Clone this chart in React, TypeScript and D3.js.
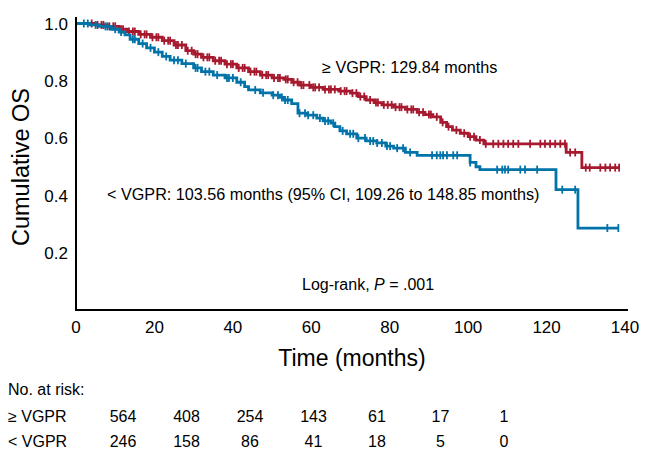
import React from "react";
import * as d3 from "d3";

const xTicks = [0, 20, 40, 60, 80, 100, 120, 140];
const yTicks = [0.2, 0.4, 0.6, 0.8, 1.0];

// Kaplan-Meier steps [time (months), cumulative survival]
const geVgprSteps: [number, number][] = [
  [0, 1], [5, 0.995], [8, 0.99], [11, 0.98], [13, 0.972], [16, 0.962], [19, 0.952],
  [22, 0.94], [25, 0.925], [28, 0.905], [30, 0.893], [32, 0.882], [35, 0.87],
  [38, 0.858], [41, 0.845], [44, 0.832], [47, 0.82], [50, 0.81], [53, 0.805],
  [55, 0.795], [57, 0.785], [60, 0.777], [63, 0.77], [67, 0.764], [70, 0.757],
  [72, 0.745], [74, 0.733], [76, 0.724], [78, 0.716], [81, 0.708], [84, 0.7],
  [87, 0.69], [89, 0.682], [91, 0.674], [93, 0.655], [94.5, 0.64], [96, 0.628],
  [98, 0.617], [100, 0.605], [102, 0.593], [104, 0.58], [125, 0.55], [129, 0.497],
  [138.5, 0.497],
];
const ltVgprSteps: [number, number][] = [
  [0, 1], [3.5, 0.995], [6, 0.99], [9, 0.98], [11, 0.97], [12.5, 0.96], [13.8, 0.945],
  [16, 0.93], [18, 0.915], [20, 0.9], [22, 0.885], [24, 0.872], [27, 0.86],
  [30, 0.845], [32, 0.832], [35, 0.82], [38, 0.81], [41, 0.795], [43, 0.78],
  [44, 0.768], [47, 0.758], [50, 0.75], [52, 0.742], [53, 0.733], [55, 0.72],
  [56.6, 0.687], [59, 0.68], [61.4, 0.67], [63, 0.66], [65, 0.652], [66, 0.64],
  [67.3, 0.625], [69, 0.615], [71.6, 0.6], [74, 0.59], [76.7, 0.583], [79, 0.572],
  [81, 0.565], [84, 0.55], [87, 0.54], [100.5, 0.515], [102, 0.5], [103, 0.49],
  [122.4, 0.42], [128, 0.286], [138.3, 0.286],
];

// censoring times (months)
const geVgprCensor = [
  4, 5.5, 6.5, 7, 8.5, 9.5, 10, 11.5, 12, 13.5, 14.5, 15, 16.5, 17.5, 18, 19.5, 20.5,
  21, 22.5, 23.5, 24, 25.5, 26, 27, 28.5, 29.5, 30.5, 31, 32.5, 33.5, 34, 35.5, 36.5,
  37, 38.5, 39.5, 40, 41.5, 42.5, 43, 44.5, 45.5, 46, 47.5, 48.5, 49, 50.5, 51.5, 52,
  53.5, 54, 55.5, 56.5, 57.5, 58, 59.5, 60.5, 61, 62, 63.5, 64.5, 65, 66, 67.5, 68.5,
  69, 70.5, 71.5, 72.5, 73.5, 75, 76.5, 77, 78.5, 79.5, 80.5, 81.5, 82.5, 83, 84.5,
  85.5, 86, 87.5, 88.5, 90, 90.5, 92, 93.5, 95, 97, 99, 100.5, 101.5, 103, 104.5,
  106.4, 107.7, 109, 110.2, 111.5, 112.8, 115.8, 118.4, 119.6, 120.9, 122.2, 123.5,
  124.7, 126, 127.3, 130, 131, 133.7, 135, 136.2, 137.5, 138.5,
];
const ltVgprCensor = [
  2, 3, 5, 7.5, 8, 10, 11.5, 14.5, 15, 17, 19, 21, 23, 25, 26, 28, 30.5, 31, 33, 34,
  36, 38.5, 39, 40, 42, 45.7, 47.7, 50.3, 51.5, 52.5, 53.3, 54, 57, 58.4, 59.2, 60.5,
  62.2, 63.5, 64.3, 65.6, 68, 69.9, 70.7, 72, 73.7, 75, 75.8, 76.8, 78, 79.3, 80.1,
  81.9, 83.4, 85.2, 90.8, 92, 92.9, 93.6, 94.6, 96.2, 97.2, 100.5, 107.4, 108.7,
  109.4, 110.2, 113.3, 114.5, 117.6, 124, 127.3, 135.5, 138.3,
];

const riskGroups = ["≥ VGPR", "< VGPR"];
const riskGe = [564, 408, 254, 143, 61, 17, 1];
const riskLt = [246, 158, 86, 41, 18, 5, 0];
const riskTimes = [0, 20, 40, 60, 80, 100, 120];

const RED = "#a6192e";
const BLUE = "#0073a8";
const FONT = "'Liberation Sans', Arial, sans-serif";

function survAt(steps: [number, number][], t: number) {
  let s = steps[0][1];
  for (const [tt, v] of steps) {
    if (tt <= t) s = v;
    else break;
  }
  return s;
}

export default function App() {
  const x = d3.scaleLinear().domain([0, 140]).range([76, 625]);
  const y = d3.scaleLinear().domain([0, 1]).range([310, 23.5]);
  const line = d3
    .line<[number, number]>()
    .x((d) => x(d[0]))
    .y((d) => y(d[1]))
    .curve(d3.curveStepAfter);
  const riskX = d3.scalePoint<number>().domain(riskTimes).range([123, 504]);

  const series = [
    { steps: ltVgprSteps, censor: ltVgprCensor, color: BLUE },
    { steps: geVgprSteps, censor: geVgprCensor, color: RED },
  ];

  return (
    <svg
      width={645}
      height={458}
      style={{ position: "absolute", left: 0, top: 0, background: "#fff" }}
      fontFamily={FONT}
    >
      {[series[1], series[0]].map((s, i) => (
        <g key={i}>
          <path d={line(s.steps) || ""} fill="none" stroke={s.color} strokeWidth={2.8} />
          {s.censor.map((t, j) => {
            const cy = y(survAt(s.steps, t));
            return (
              <line
                key={j}
                x1={x(t)}
                x2={x(t)}
                y1={cy - 4}
                y2={cy + 4}
                stroke={s.color}
                strokeWidth={1.8}
              />
            );
          })}
        </g>
      ))}

      {/* axes */}
      <line x1={x(0)} x2={628} y1={y(0)} y2={y(0)} stroke="#000" strokeWidth={2} />
      <line x1={x(0)} x2={x(0)} y1={y(0) + 1} y2={17} stroke="#000" strokeWidth={2} />

      {yTicks.map((v) => (
        <text key={v} x={68} y={y(v)} dy="0.36em" textAnchor="end" fontSize={17}>
          {v.toFixed(1)}
        </text>
      ))}
      {xTicks.map((v) => (
        <text key={v} x={x(v)} y={333} textAnchor="middle" fontSize={17}>
          {v}
        </text>
      ))}

      <text
        transform={`translate(29,167) rotate(-90)`}
        textAnchor="middle"
        fontSize={23.5}
      >
        Cumulative OS
      </text>
      <text x={352} y={366} textAnchor="middle" fontSize={23}>
        Time (months)
      </text>

      <text x={322} y={73} fontSize={16.2}>
        ≥ VGPR: 129.84 months
      </text>
      <text x={107} y={200} fontSize={16.2}>
        &lt; VGPR: 103.56 months (95% CI, 109.26 to 148.85 months)
      </text>
      <text x={302} y={290} fontSize={16}>
        Log-rank, <tspan fontStyle="italic">P</tspan> = .001
      </text>

      {/* risk table */}
      <text x={8} y={395} fontSize={16}>
        No. at risk:
      </text>
      {[riskGe, riskLt].map((row, r) => (
        <g key={r}>
          <text x={8} y={422 + r * 25} fontSize={16}>
            {riskGroups[r]}
          </text>
          {row.map((n, i) => (
            <text
              key={i}
              x={riskX(riskTimes[i])}
              y={422 + r * 25}
              textAnchor="middle"
              fontSize={16}
            >
              {n}
            </text>
          ))}
        </g>
      ))}
    </svg>
  );
}
